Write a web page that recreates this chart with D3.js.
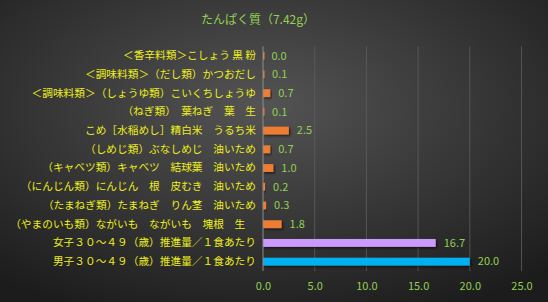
<!DOCTYPE html>
<html>
<head>
<meta charset="utf-8">
<script src="https://cdn.jsdelivr.net/npm/d3@7"></script>
<style>
  html, body { margin: 0; padding: 0; background: #2a2a2a; }
  svg { display: block; }
</style>
</head>
<body>
<div id="chart"></div>
<script>
// ......................
// Data
var categories = [
    "＜香辛料類＞こしょう 黒 粉",
    "＜調味料類＞（だし類）かつおだし",
    "＜調味料類＞（しょうゆ類）こいくちしょうゆ",
    "（ねぎ類）　葉ねぎ　葉　生",
    "こめ［水稲めし］精白米　うるち米",
    "（しめじ類）ぶなしめじ　油いため",
    "（キャベツ類）キャベツ　結球葉　油いため",
    "（にんじん類）にんじん　根　皮むき　油いため",
    "（たまねぎ類）たまねぎ　りん茎　油いため",
    "（やまのいも類）ながいも　ながいも　塊根　生　",
    "女子３０～４９（歳）推進量／１食あたり",
    "男子３０～４９（歳）推進量／１食あたり"
];
var values = [0.04, 0.1, 0.7, 0.1, 2.5, 0.7, 1.0, 0.2, 0.3, 1.8, 16.7, 20.0];
var barColors = ["#ed7d31", "#ed7d31", "#ed7d31", "#ed7d31", "#ed7d31", "#ed7d31",
                 "#ed7d31", "#ed7d31", "#ed7d31", "#ed7d31", "#cc99ff", "#00b0f0"];
var xTicks = [0, 5, 10, 15, 20, 25];
var title = "たんぱく質（7.42g）";

// ......................
// SVG area
var svgWidth = 548;
var svgHeight = 302;

var plot = { left: 263, right: 521.5, top: 46.3, bottom: 271 };
var fontJP = "Noto Sans CJK JP, sans-serif";

var svg = d3.select("#chart")
    .append("svg")
    .attr("width", svgWidth)
    .attr("height", svgHeight);

var defs = svg.append("defs");

// background radial gradient
var grad = defs.append("radialGradient")
    .attr("id", "bg")
    .attr("cx", "48%").attr("cy", "35%").attr("r", "75%");
grad.append("stop").attr("offset", "0%").attr("stop-color", "#545454");
grad.append("stop").attr("offset", "100%").attr("stop-color", "#1c1c1c");

// bar shadow
var shadow = defs.append("filter").attr("id", "shadow")
    .attr("x", "-10%").attr("y", "-30%").attr("width", "130%").attr("height", "180%");
shadow.append("feDropShadow")
    .attr("dx", 1.5).attr("dy", 1.5).attr("stdDeviation", 0.8)
    .attr("flood-color", "#000").attr("flood-opacity", 0.6);

svg.append("rect")
    .attr("width", svgWidth)
    .attr("height", svgHeight)
    .attr("fill", "url(#bg)");

// ......................
// Scales
var xScale = d3.scaleLinear()
    .domain([0, 25])
    .range([plot.left, plot.right]);

var yScale = d3.scaleBand()
    .domain(categories)
    .range([plot.top, plot.bottom])
    .paddingInner(0.58)
    .paddingOuter(0.29);

// gridlines
svg.append("g")
    .selectAll("line")
    .data(xTicks.slice(1))
    .enter()
    .append("line")
    .attr("x1", d => xScale(d))
    .attr("x2", d => xScale(d))
    .attr("y1", plot.top)
    .attr("y2", plot.bottom)
    .attr("stroke", "#5e5e5e")
    .attr("stroke-width", 0.8);

// x axis tick labels
var xAxis = d3.axisBottom(xScale)
    .tickValues(xTicks)
    .tickFormat(d3.format(".1f"))
    .tickSize(0)
    .tickPadding(11);

var xAxisG = svg.append("g")
    .attr("transform", `translate(0, ${plot.bottom})`)
    .call(xAxis);
xAxisG.select(".domain").remove();
xAxisG.selectAll("text")
    .attr("fill", "#92d050")
    .attr("font-family", fontJP)
    .attr("font-size", 11);

// bars
svg.append("g")
    .selectAll("rect")
    .data(values)
    .enter()
    .append("rect")
    .attr("x", xScale(0))
    .attr("y", (d, i) => yScale(categories[i]))
    .attr("width", d => Math.max(1.5, xScale(d) - xScale(0)))
    .attr("height", yScale.bandwidth())
    .attr("fill", (d, i) => barColors[i])
    .attr("filter", "url(#shadow)");

// y axis line
svg.append("line")
    .attr("x1", plot.left).attr("x2", plot.left)
    .attr("y1", plot.top).attr("y2", plot.bottom)
    .attr("stroke", "#8c8c8c")
    .attr("stroke-width", 1);

// category labels
var yAxis = d3.axisLeft(yScale).tickSize(0).tickPadding(7);
var yAxisG = svg.append("g")
    .attr("transform", `translate(${plot.left}, 0)`)
    .call(yAxis);
yAxisG.select(".domain").remove();
yAxisG.selectAll("text")
    .attr("fill", "#eeee1a")
    .attr("font-family", fontJP)
    .attr("font-size", 10.7)
    .style("white-space", "pre");

// value labels
svg.append("g")
    .selectAll("text")
    .data(values)
    .enter()
    .append("text")
    .attr("x", d => xScale(d) + 8)
    .attr("y", (d, i) => yScale(categories[i]) + yScale.bandwidth() / 2)
    .attr("dy", "0.35em")
    .attr("fill", "#92d050")
    .attr("font-family", fontJP)
    .attr("font-size", 11)
    .text(d => d3.format(".1f")(d));

// title
svg.append("text")
    .attr("x", 258)
    .attr("y", 20)
    .attr("dy", "0.35em")
    .attr("text-anchor", "middle")
    .attr("fill", "#92d050")
    .attr("font-family", fontJP)
    .attr("font-size", 12)
    .text(title);
</script>
</body>
</html>
